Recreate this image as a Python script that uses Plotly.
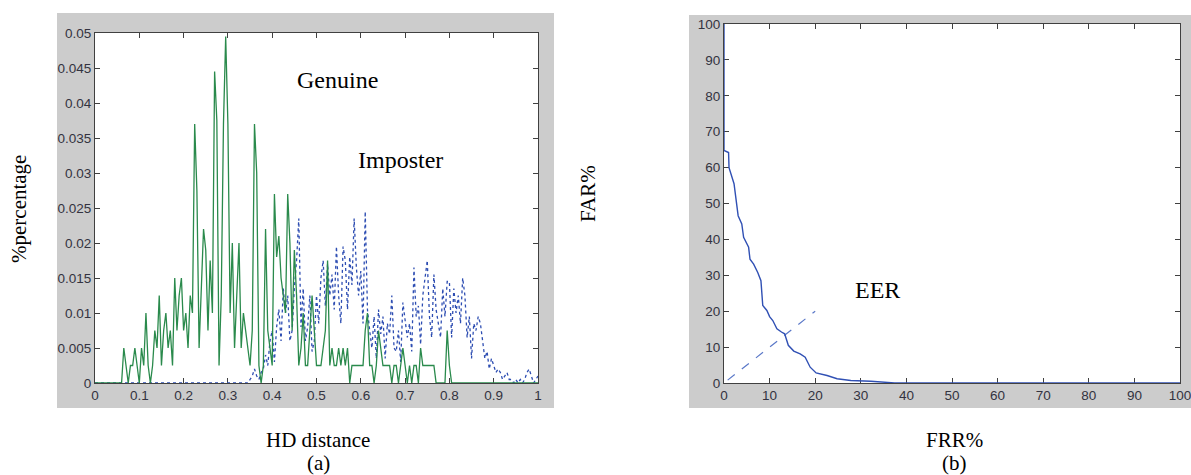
import numpy as np
import plotly.graph_objects as go

W, H = 1191, 475

# ---------------- data ----------------
hd_bins = [round(i * 0.005, 3) for i in range(201)]

genuine = [
    0, 0, 0, 0, 0, 0, 0, 0, 0, 0, 0, 0,          # 0 - 0.055
    0, 0.005, 0.0025, 0, 0.0025, 0.0025, 0.005, 0.0025,   # 0.06 - 0.095
    0, 0.005, 0.0025, 0.01, 0.0025, 0, 0.0025, 0.0075, 0.005, 0.0125,  # 0.1 - 0.145
    0.0025, 0.0075, 0.01, 0.005, 0.0075, 0.0025, 0.015, 0.0075, 0.0125, 0.015,  # 0.15 - 0.195
    0.0075, 0.01, 0.005, 0.0125, 0.01, 0.037, 0.0275, 0.005, 0.0125, 0.022,  # 0.2 - 0.245
    0.019, 0.0075, 0.0175, 0.01, 0.0445, 0.0375, 0.0025, 0.0125, 0.037, 0.0495,  # 0.25 - 0.295
    0.037, 0.01, 0.02, 0.005, 0.0125, 0.02, 0.005, 0.01, 0.0075, 0.005,  # 0.3 - 0.345
    0.0025, 0.0075, 0.037, 0.03, 0.0025, 0, 0.0025, 0.022, 0.0075, 0.005,  # 0.35 - 0.395
    0.0025, 0.027, 0.018, 0.021, 0.015, 0.0125, 0.01, 0.027, 0.02, 0.0075,  # 0.4 - 0.445
    0.019, 0.0125, 0.0025, 0.005, 0.01, 0.0025, 0.0025, 0.0075, 0.0125, 0.0075,  # 0.45 - 0.495
    0.0025, 0.0025, 0.0025, 0.005, 0.0075, 0.0175, 0.0025, 0.005, 0.0025, 0.0025,  # 0.5 - 0.545
    0.005, 0.0025, 0.005, 0.0025, 0.005, 0, 0.0025, 0.0025, 0.0025, 0.0025,  # 0.55 - 0.595
    0.0025, 0.0025, 0.0075, 0.01, 0.0025, 0.0025, 0, 0.0025, 0.0075, 0.005,  # 0.6 - 0.645
    0.0025, 0.0025, 0.0025, 0.0025, 0, 0.0025, 0.0025, 0, 0.0025, 0.005,  # 0.65 - 0.695
    0.0025, 0, 0.0025, 0, 0.0025, 0.0025, 0, 0.005, 0.0025, 0.0025,  # 0.7 - 0.745
    0.0025, 0.0025, 0.0025, 0.0025, 0, 0, 0, 0, 0, 0.0075,  # 0.75 - 0.795
    0.0025, 0, 0, 0, 0, 0, 0, 0, 0, 0,  # 0.8 - 0.845
    0, 0, 0, 0, 0, 0, 0, 0, 0, 0,  # 0.85 - 0.895
    0, 0, 0, 0, 0, 0, 0, 0, 0, 0,  # 0.9 - 0.945
    0, 0, 0, 0, 0, 0, 0, 0, 0, 0,  # 0.95 - 0.995
    0,  # 1.0
]

imposter = [
    0, 0, 0, 0, 0, 0, 0, 0, 0, 0,  # 0 - 0.045
    0, 0, 0, 0, 0, 0, 0, 0, 0, 0,  # 0.05 - 0.095
    0, 0, 0, 0, 0, 0, 0, 0, 0, 0,  # 0.1 - 0.145
    0, 0, 0, 0, 0, 0, 0, 0, 0, 0,  # 0.15 - 0.195
    0, 0, 0, 0, 0, 0, 0, 0, 0, 0,  # 0.2 - 0.245
    0, 0, 0, 0, 0, 0, 0, 0, 0, 0,  # 0.25 - 0.295
    0, 0, 0, 0, 0, 0, 0, 0, 0, 0,  # 0.3 - 0.345
    0.0005, 0.001, 0.002, 0.001, 0.0005, 0.0015, 0.002, 0.004, 0.0025, 0.006,  # 0.35 - 0.395
    0.0075, 0.003, 0.008, 0.0105, 0.006, 0.0135, 0.01, 0.0125, 0.006, 0.0075,  # 0.4 - 0.445
    0.0135, 0.0175, 0.0235, 0.008, 0.0135, 0.006, 0.008, 0.0125, 0.0045, 0.006,  # 0.45 - 0.495
    0.0125, 0.0085, 0.015, 0.0175, 0.011, 0.017, 0.0125, 0.0155, 0.0105, 0.0195,  # 0.5 - 0.545
    0.0125, 0.0085, 0.0195, 0.0175, 0.0105, 0.018, 0.014, 0.0235, 0.0165, 0.0125,  # 0.55 - 0.595
    0.016, 0.0085, 0.0245, 0.0105, 0.0075, 0.005, 0.0095, 0.0035, 0.0105, 0.007,  # 0.6 - 0.645
    0.0095, 0.0035, 0.0085, 0.007, 0.0125, 0.005, 0.0045, 0.0075, 0.003, 0.0115,  # 0.65 - 0.695
    0.009, 0.0065, 0.0085, 0.0045, 0.0165, 0.0095, 0.011, 0.0055, 0.0125, 0.0155,  # 0.7 - 0.745
    0.0175, 0.0095, 0.0065, 0.0155, 0.0105, 0.0085, 0.0065, 0.0135, 0.0095, 0.0145,  # 0.75 - 0.795
    0.0145, 0.0065, 0.0135, 0.01, 0.0125, 0.0085, 0.015, 0.0125, 0.0065, 0.0095,  # 0.8 - 0.845
    0.0035, 0.0085, 0.0075, 0.0095, 0.0085, 0.006, 0.0035, 0.0045, 0.002, 0.0035,  # 0.85 - 0.895
    0.0025, 0.0015, 0.002, 0.0015, 0.0005, 0.001, 0.0015, 0.0005, 0.0005, 0,  # 0.9 - 0.945
    0.0005, 0, 0.0005, 0, 0.0005, 0.0015, 0.002, 0.001, 0, 0.0005,  # 0.95 - 0.995
    0.001,  # 1.0
]

frr = [0, 0, 1.0, 1.1, 2.2, 2.6, 3.1, 3.9, 4.3, 5.4, 5.7, 6.5, 7.4, 8.1, 8.5, 9.4,
       10.0, 10.7, 11.6, 12.6, 13.3, 14.1, 15.3, 16.7, 17.8, 18.9, 20.2, 22.6,
       24.8, 27.8, 32.2, 37.4, 100]
far = [100, 64.8, 64.2, 60.0, 55.5, 51.8, 46.6, 44.3, 40.6, 37.8, 34.5, 33.1,
       30.8, 28.5, 21.6, 20.2, 18.5, 17.4, 15.1, 14.2, 13.7, 10.5, 8.9, 8.1, 7.2,
       4.4, 2.8, 2.1, 1.2, 0.7, 0.5, 0, 0]

eer_x = [0.8, 20]
eer_y = [0.8, 20]

hd_ticks = [0, 0.1, 0.2, 0.3, 0.4, 0.5, 0.6, 0.7, 0.8, 0.9, 1]
hd_ticklabels = ["0", "0.1", "0.2", "0.3", "0.4", "0.5", "0.6", "0.7", "0.8", "0.9", "1"]
pct_ticks = [0, 0.005, 0.01, 0.015, 0.02, 0.025, 0.03, 0.035, 0.04, 0.045, 0.05]
pct_ticklabels = ["0", "0.005", "0.01", "0.015", "0.02", "0.025", "0.03", "0.035", "0.04", "0.045", "0.05"]
rate_ticks = [0, 10, 20, 30, 40, 50, 60, 70, 80, 90, 100]
rate_ticklabels = [str(v) for v in rate_ticks]

# ---------------- figure ----------------
def px_x(p):
    return p / W

def px_y(p):
    return 1 - p / H

fig = go.Figure()

fig.add_trace(go.Scatter(
    x=hd_bins, y=imposter, mode="lines",
    line=dict(color="#2d4db2", width=1.3, dash="dot"),
    xaxis="x", yaxis="y", showlegend=False, name="Imposter"))
fig.add_trace(go.Scatter(
    x=hd_bins, y=genuine, mode="lines",
    line=dict(color="#2a8a4c", width=1.3),
    xaxis="x", yaxis="y", showlegend=False, name="Genuine"))

fig.add_trace(go.Scatter(
    x=eer_x, y=eer_y, mode="lines",
    line=dict(color="#5a78c8", width=1.2, dash="dash"),
    xaxis="x2", yaxis="y2", showlegend=False))
fig.add_trace(go.Scatter(
    x=frr, y=far, mode="lines",
    line=dict(color="#3050b4", width=1.4),
    xaxis="x2", yaxis="y2", showlegend=False))

tickfont = dict(family="Liberation Sans, Arial, sans-serif", size=13.5, color="#333340")
axis_common = dict(
    showgrid=False, zeroline=False, showline=True, linecolor="#404040", linewidth=1,
    mirror="ticks", ticks="inside", ticklen=5, tickcolor="#404040", tickwidth=1,
    tickfont=tickfont, layer="below traces", automargin=False,
    ticklabeloverflow="allow",
)

fig.update_layout(
    template="none",
    width=W, height=H,
    margin=dict(l=0, r=0, t=0, b=0, pad=0),
    paper_bgcolor="white", plot_bgcolor="white",
    xaxis=dict(domain=[px_x(95), px_x(538)], range=[0, 1], anchor="y",
               tickvals=hd_ticks, ticktext=hd_ticklabels, **axis_common),
    yaxis=dict(domain=[px_y(383), px_y(33)], range=[0, 0.05], anchor="x",
               tickvals=pct_ticks, ticktext=pct_ticklabels, **axis_common),
    xaxis2=dict(domain=[px_x(724), px_x(1180)], range=[0, 100], anchor="y2",
                tickvals=rate_ticks, ticktext=rate_ticklabels, **axis_common),
    yaxis2=dict(domain=[px_y(383), px_y(24)], range=[0, 100], anchor="x2",
                tickvals=rate_ticks, ticktext=rate_ticklabels, **axis_common),
    shapes=[
        dict(type="rect", xref="paper", yref="paper", layer="below",
             x0=px_x(57), x1=px_x(554), y0=px_y(408), y1=px_y(13),
             fillcolor="#cccccc", line=dict(width=0)),
        dict(type="rect", xref="paper", yref="paper", layer="below",
             x0=px_x(689), x1=px_x(1191), y0=px_y(408), y1=px_y(15),
             fillcolor="#cccccc", line=dict(width=0)),
        dict(type="rect", xref="paper", yref="paper", layer="below",
             x0=px_x(95), x1=px_x(538), y0=px_y(383), y1=px_y(33),
             fillcolor="white", line=dict(width=0)),
        dict(type="rect", xref="paper", yref="paper", layer="below",
             x0=px_x(724), x1=px_x(1180), y0=px_y(383), y1=px_y(24),
             fillcolor="white", line=dict(width=0)),
    ],
)

serif = "Liberation Serif, Times New Roman, serif"
ann = []
ann.append(dict(text="Genuine", x=0.548, y=0.0433, xref="x", yref="y", showarrow=False,
                font=dict(family=serif, size=24, color="black")))
ann.append(dict(text="Imposter", x=0.689, y=0.0318, xref="x", yref="y", showarrow=False,
                font=dict(family=serif, size=24, color="black")))
ann.append(dict(text="EER", x=33.6, y=26.0, xref="x2", yref="y2", showarrow=False,
                font=dict(family=serif, size=24, color="black")))
for txt, cx, cy, ang in [("HD distance", 318, 440, 0), ("(a)", 318, 463, 0),
                         ("FRR%", 954, 440, 0), ("(b)", 954, 463, 0),
                         ("%percentage", 19, 209, -90), ("FAR%", 588, 194, -90)]:
    ann.append(dict(text=txt, x=px_x(cx), y=px_y(cy), xref="paper", yref="paper",
                    showarrow=False, textangle=ang, xanchor="center", yanchor="middle",
                    font=dict(family=serif, size=21, color="black")))
fig.update_layout(annotations=ann)

fig.write_html(
    "out.html",
    config={"displayModeBar": False},
    post_script="document.body.style.margin='0';document.body.style.padding='0';"
                "document.body.style.overflow='hidden';",
)
